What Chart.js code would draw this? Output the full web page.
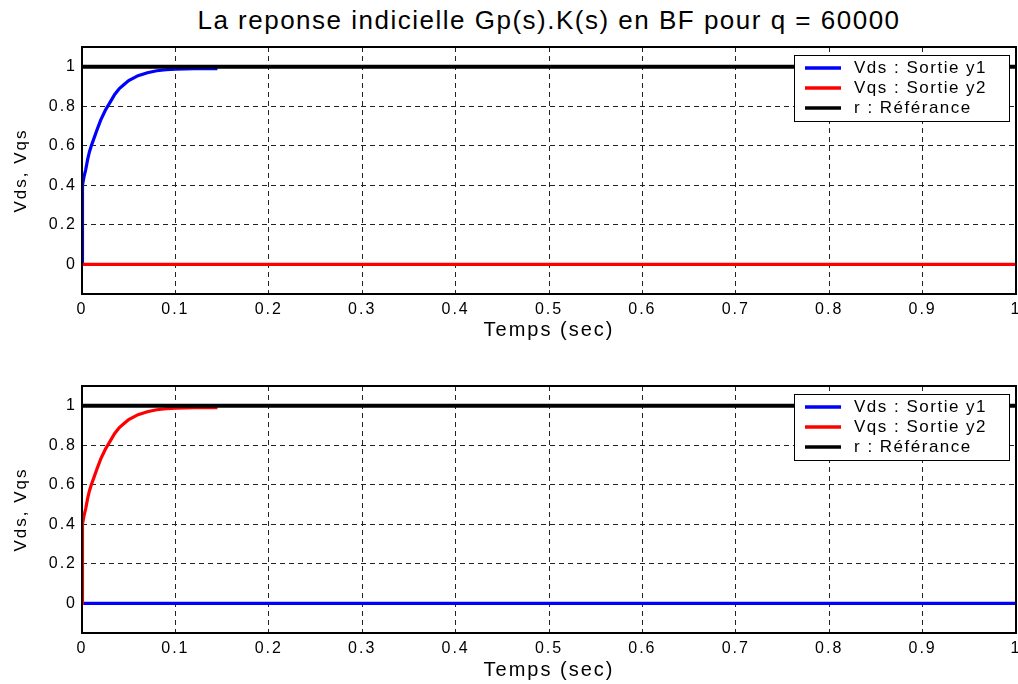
<!DOCTYPE html>
<html>
<head>
<meta charset="utf-8">
<script src="https://cdn.jsdelivr.net/npm/chart.js@4.4.0/dist/chart.umd.min.js"></script>
<style>
  html, body { margin: 0; padding: 0; background: #fff; }
  #wrap { position: relative; width: 1018px; height: 684px; overflow: hidden; }
  #title { position: absolute; left: 82px; width: 934px; top: 5px; text-align: center;
           font: 26px "Liberation Sans", Arial, sans-serif; letter-spacing: 1.5px;
           color: #000; white-space: nowrap; }
  canvas { position: absolute; left: 0; }
</style>
</head>
<body>
<div id="wrap">
  <div id="title">La reponse indicielle Gp(s).K(s) en BF pour q = 60000</div>
  <canvas id="top" width="1018" height="342" style="top:0"></canvas>
  <canvas id="bottom" width="1018" height="342" style="top:342px"></canvas>
</div>
<script>
'use strict';

// Step response (same shape in both plots)
const stepTime  = [0, 0.0005, 0.002, 0.004, 0.006, 0.008, 0.010, 0.013, 0.016, 0.020, 0.025, 0.030,
                   0.035, 0.040, 0.045, 0.050, 0.060, 0.070, 0.080, 0.090, 0.100, 0.120, 0.145];
const stepValue = [0, 0.40, 0.44, 0.48, 0.53, 0.57, 0.60, 0.64, 0.68, 0.73, 0.78, 0.82,
                   0.86, 0.89, 0.91, 0.93, 0.955, 0.97, 0.98, 0.985, 0.988, 0.99, 0.99];
const flatTime  = [0, 1];
const zeroValue = [0, 0];
const refValue  = [1, 1];

const seriesLabels = ['Vds : Sortie y1', 'Vqs : Sortie y2', 'r : Référance'];
const seriesColors = ['#0000ff', '#ff0000', '#000000'];
const xTicks = [0, 0.1, 0.2, 0.3, 0.4, 0.5, 0.6, 0.7, 0.8, 0.9, 1];
const yTicks = [0, 0.2, 0.4, 0.6, 0.8, 1];

const FONT = '"Liberation Sans", Arial, sans-serif';

function pts(xs, ys) { return xs.map((x, i) => ({ x: x, y: ys[i] })); }

// MATLAB text is drawn a bit wider than the font itself
const spacing = {
  id: 'spacing',
  beforeUpdate(chart) { chart.ctx.letterSpacing = '2px'; },
  beforeDraw(chart) { chart.ctx.letterSpacing = '2px'; }
};

const frame = {
  id: 'frame',
  afterDatasetsDraw(chart) {
    const a = chart.chartArea, ctx = chart.ctx;
    ctx.save();
    ctx.strokeStyle = '#000';
    ctx.lineWidth = 2;
    ctx.strokeRect(a.left, a.top, a.right - a.left, a.bottom - a.top);
    ctx.restore();
  }
};

const boxLegend = {
  id: 'boxLegend',
  afterDraw(chart) {
    const ctx = chart.ctx, a = chart.chartArea;
    const w = 215, h = 66;
    const x = a.right - 7 - w, y = a.top + 8;
    ctx.save();
    ctx.letterSpacing = '1.5px';
    ctx.fillStyle = '#fff';
    ctx.fillRect(x, y, w, h);
    ctx.strokeStyle = '#000';
    ctx.lineWidth = 1;
    ctx.strokeRect(x + 0.5, y + 0.5, w, h);
    ctx.font = '17px ' + FONT;
    ctx.textBaseline = 'middle';
    chart.data.datasets.forEach((ds, i) => {
      const ry = y + 13 + i * 20;
      ctx.strokeStyle = ds.borderColor;
      ctx.lineWidth = 3.5;
      ctx.beginPath();
      ctx.moveTo(x + 11, ry);
      ctx.lineTo(x + 47, ry);
      ctx.stroke();
      ctx.fillStyle = '#000';
      ctx.fillText(ds.label, x + 60, ry);
    });
    ctx.restore();
  }
};

function makeChart(id, vdsPoints, vqsPoints, areaTop, axisHeight, labelPad, titlePad) {
  const series = [vdsPoints, vqsPoints, pts(flatTime, refValue)];
  return new Chart(document.getElementById(id), {
    type: 'line',
    data: {
      datasets: series.map((d, i) => ({
        label: seriesLabels[i],
        data: d,
        borderColor: seriesColors[i],
        backgroundColor: seriesColors[i],
        borderWidth: i === 2 ? 4 : 3.2,
        pointRadius: 0,
        tension: 0,
        order: 2 - i   // last series on top, like MATLAB
      }))
    },
    options: {
      responsive: false,
      animation: false,
      layout: { padding: { top: areaTop, right: 2, left: 0, bottom: 0 } },
      plugins: { legend: { display: false }, tooltip: { enabled: false }, title: { display: false } },
      scales: {
        x: {
          type: 'linear', min: 0, max: 1,
          afterBuildTicks(s) { s.ticks = xTicks.map(v => ({ value: v })); },
          afterFit(s) { s.height = axisHeight; s.paddingLeft = 0; s.paddingRight = 0; },
          ticks: { color: '#000', padding: labelPad, maxRotation: 0, autoSkip: false,
                   font: { family: FONT, size: 16 }, callback: v => String(v) },
          grid: { color: '#222', lineWidth: 1, drawTicks: false },
          border: { display: false, dash: [5, 4] },
          title: { display: true, text: 'Temps (sec)', color: '#000',
                   font: { family: FONT, size: 20 }, padding: { top: 0, bottom: titlePad } }
        },
        y: {
          type: 'linear', min: -0.15, max: 1.1,
          afterBuildTicks(s) { s.ticks = yTicks.map(v => ({ value: v })); },
          afterFit(s) { s.width = 82; s.paddingTop = 0; s.paddingBottom = 0; },
          ticks: { color: '#000', padding: 5, font: { family: FONT, size: 16 }, callback: v => String(v) },
          grid: { color: '#222', lineWidth: 1, drawTicks: false },
          border: { display: false, dash: [5, 4] },
          title: { display: true, text: 'Vds, Vqs', color: '#000',
                   font: { family: FONT, size: 17 }, padding: { top: 11, bottom: 0 } }
        }
      }
    },
    plugins: [spacing, frame, boxLegend]
  });
}

const step = pts(stepTime, stepValue);
const flat = pts(flatTime, zeroValue);
makeChart('top', step, flat, 47, 48, 6, 0);
makeChart('bottom', flat, step, 44, 51, 6, 2);
</script>
</body>
</html>
